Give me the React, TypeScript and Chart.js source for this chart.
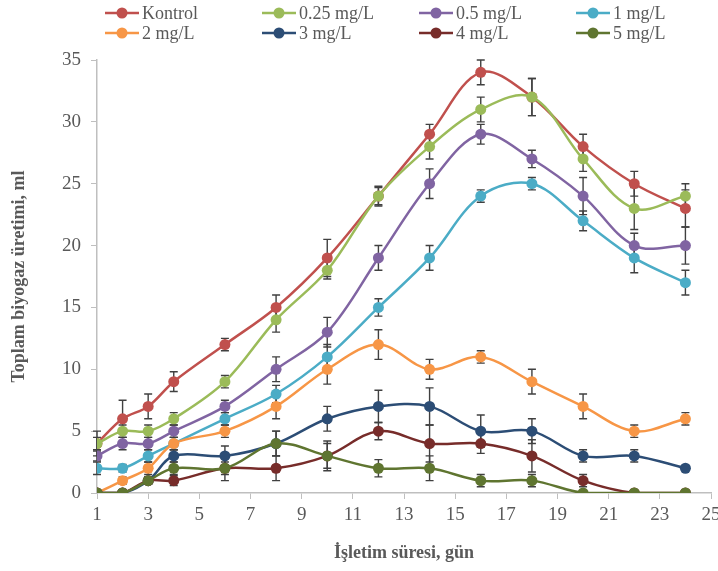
import React, { useEffect, useRef } from "react";
import { Chart, registerables } from "chart.js";

Chart.register(...registerables);

const days = [1, 2, 3, 4, 6, 8, 10, 12, 14, 16, 18, 20, 22, 24];
const seriesNames = ["Kontrol", "0.25 mg/L", "0.5 mg/L", "1 mg/L", "2 mg/L", "3 mg/L", "4 mg/L", "5 mg/L"];
const seriesColors = ["#C0504D", "#9BBB59", "#8064A2", "#4BACC6", "#F79646", "#2C4D75", "#772C2A", "#5F7530"];

const kontrol = [4, 6, 7, 9, 12, 15, 19, 24, 29, 34, 32, 28, 25, 23];
const mg025 = [4, 5, 5, 6, 9, 14, 18, 24, 28, 31, 32, 27, 23, 24];
const mg05 = [3, 4, 4, 5, 7, 10, 13, 19, 25, 29, 27, 24, 20, 20];
const mg1 = [2, 2, 3, 4, 6, 8, 11, 15, 19, 24, 25, 22, 19, 17];
const mg2 = [0, 1, 2, 4, 5, 7, 10, 12, 10, 11, 9, 7, 5, 6];
const mg3 = [0, 0, 1, 3, 3, 4, 6, 7, 7, 5, 5, 3, 3, 2];
const mg4 = [0, 0, 1, 1, 2, 2, 3, 5, 4, 4, 3, 1, 0, 0];
const mg5 = [0, 0, 1, 2, 2, 4, 3, 2, 2, 1, 1, 0, 0, 0];

const errKontrol = [0.5, 1.5, 1, 0.8, 0.5, 1, 1.5, 0.7, 0.8, 1, 1.5, 1, 1, 1.5];
const err025 = [1, 0.5, 0.5, 0.5, 0.5, 1, 0.7, 0.8, 1, 1, 1.5, 1, 1.7, 1];
const err05 = [0.4, 0.5, 0.5, 0.5, 0.5, 1, 1.2, 1, 1.2, 0.8, 0.7, 1.5, 1, 1.5];
const err1 = [0.5, 0.3, 0.5, 0.5, 0.5, 0.7, 1, 0.7, 1, 0.5, 0.5, 0.8, 1.2, 1];
const err2 = [0, 0.3, 0.5, 0.5, 0.5, 1, 1.2, 1.2, 0.8, 0.5, 1, 1, 0.5, 0.5];
const err3 = [0, 0, 0.3, 0.5, 0.8, 1, 1, 1.3, 1.5, 1.3, 1, 0.5, 0.5, 0.2];
const err4 = [0, 0, 0.3, 0.4, 0.5, 1, 1.2, 0.7, 1.5, 0.8, 1.3, 0.5, 0, 0];
const err5 = [0, 0, 0.3, 0.5, 1, 1, 1, 0.7, 1, 0.5, 0.5, 0, 0, 0];

const allValues = [kontrol, mg025, mg05, mg1, mg2, mg3, mg4, mg5];
const allErrors = [errKontrol, err025, err05, err1, err2, err3, err4, err5];

const xTitle = "İşletim süresi, gün";
const yTitle = "Toplam biyogaz üretimi, ml";

const FONT = "'Liberation Serif', 'Times New Roman', serif";
const AXIS_GRAY = "#BFBFBF";
const TEXT_GRAY = "#595959";

const errorBarPlugin = {
  id: "errorBars",
  beforeDatasetsDraw(chart: any) {
    const ctx = chart.ctx;
    const yScale = chart.scales.y;
    ctx.save();
    ctx.strokeStyle = "#404040";
    ctx.lineWidth = 1.4;
    chart.data.datasets.forEach((ds: any, di: number) => {
      const meta = chart.getDatasetMeta(di);
      const errs = allErrors[di];
      meta.data.forEach((pt: any, i: number) => {
        const e = errs[i];
        if (!e) return;
        const v = ds.data[i].y;
        const x = pt.x;
        const yTop = yScale.getPixelForValue(v + e);
        const yBot = yScale.getPixelForValue(Math.max(0, v - e));
        ctx.beginPath();
        ctx.moveTo(x, yTop);
        ctx.lineTo(x, yBot);
        ctx.moveTo(x - 4, yTop);
        ctx.lineTo(x + 4, yTop);
        ctx.moveTo(x - 4, yBot);
        ctx.lineTo(x + 4, yBot);
        ctx.stroke();
      });
    });
    ctx.restore();
  },
};

const legendPlugin = {
  id: "gridLegend",
  afterDraw(chart: any) {
    const ctx = chart.ctx;
    ctx.save();
    seriesNames.forEach((name, i) => {
      const col = i % 4;
      const row = Math.floor(i / 4);
      const x0 = 105 + col * 157;
      const y = 13 + row * 20;
      ctx.strokeStyle = seriesColors[i];
      ctx.lineWidth = 2.5;
      ctx.beginPath();
      ctx.moveTo(x0, y);
      ctx.lineTo(x0 + 34, y);
      ctx.stroke();
      ctx.fillStyle = seriesColors[i];
      ctx.beginPath();
      ctx.arc(x0 + 17, y, 5.5, 0, Math.PI * 2);
      ctx.fill();
      ctx.fillStyle = TEXT_GRAY;
      ctx.font = `18px ${FONT}`;
      ctx.textBaseline = "middle";
      ctx.textAlign = "left";
      ctx.fillText(name, x0 + 37, y + 1);
    });
    ctx.restore();
  },
};

export default function App() {
  const ref = useRef<HTMLCanvasElement | null>(null);

  useEffect(() => {
    if (!ref.current) return;
    const datasets = allValues.map((vals, i) => ({
      label: seriesNames[i],
      data: vals.map((v, j) => ({ x: days[j], y: v })),
      borderColor: seriesColors[i],
      backgroundColor: seriesColors[i],
      borderWidth: 2.5,
      pointRadius: 5.5,
      pointBorderWidth: 0,
      pointBackgroundColor: seriesColors[i],
      tension: 0.35,
      fill: false,
      order: 7 - i,
    }));
    const chart = new Chart(ref.current, {
      type: "line",
      data: { datasets },
      options: {
        animation: false,
        responsive: false,
        layout: { padding: { top: 60, left: 0, right: 0, bottom: 0 } },
        plugins: {
          legend: { display: false },
          tooltip: { enabled: false },
        },
        scales: {
          x: {
            type: "linear",
            min: 1,
            max: 25,
            ticks: {
              stepSize: 2,
              color: TEXT_GRAY,
              font: { family: FONT, size: 19 },
              padding: 5,
              maxRotation: 0,
            },
            grid: {
              display: true,
              drawOnChartArea: false,
              drawTicks: true,
              tickLength: 6,
              color: AXIS_GRAY,
            },
            border: { color: AXIS_GRAY, width: 1.5 },
            title: {
              display: true,
              text: xTitle,
              color: TEXT_GRAY,
              font: { family: FONT, size: 18, weight: "bold" },
              padding: { top: 0, bottom: 7 },
            },
            afterFit: (s: any) => {
              s.height = 78;
              s.paddingRight = 7;
            },
          },
          y: {
            min: 0,
            max: 35,
            ticks: {
              stepSize: 5,
              color: TEXT_GRAY,
              font: { family: FONT, size: 19 },
              padding: 10,
            },
            grid: {
              display: true,
              drawOnChartArea: false,
              drawTicks: true,
              tickLength: 6,
              color: AXIS_GRAY,
            },
            border: { color: AXIS_GRAY, width: 1.5 },
            title: {
              display: true,
              text: yTitle,
              color: TEXT_GRAY,
              font: { family: FONT, size: 18, weight: "bold" },
              padding: { top: 9, bottom: 0 },
            },
            afterFit: (s: any) => {
              s.width = 97;
            },
          },
        },
      } as any,
      plugins: [errorBarPlugin, legendPlugin],
    });
    return () => chart.destroy();
  }, []);

  return (
    <div style={{ position: "absolute", left: 0, top: 0, width: 718, height: 571, background: "#fff" }}>
      <canvas ref={ref} width={718} height={571} style={{ display: "block" }} />
    </div>
  );
}
